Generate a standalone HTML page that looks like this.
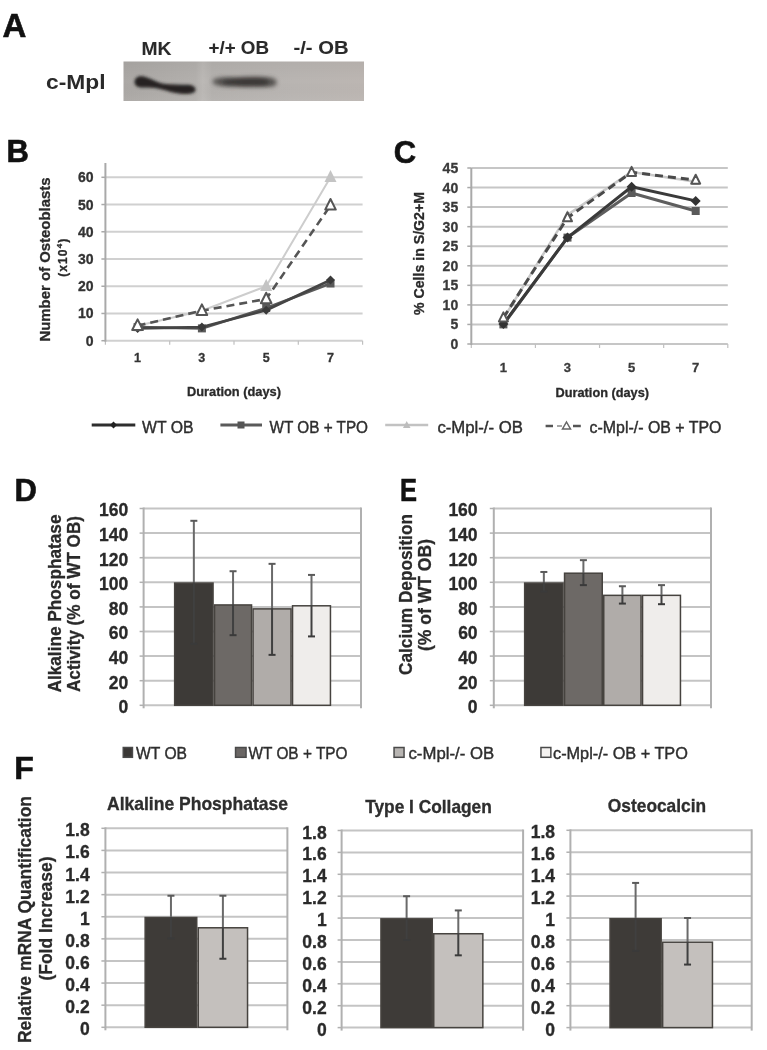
<!DOCTYPE html><html><head><meta charset="utf-8"><style>
html,body{margin:0;padding:0;background:#fff;width:767px;height:1050px;overflow:hidden}
svg{display:block;filter:blur(0.45px)}
text{font-family:"Liberation Sans", sans-serif}
</style></head><body>
<svg width="767" height="1050" viewBox="0 0 767 1050">
<defs>
<linearGradient id="blotg" x1="0" y1="0" x2="1" y2="0">
<stop offset="0" stop-color="#aba8a5"/><stop offset="0.3" stop-color="#b3b0ad"/><stop offset="0.33" stop-color="#bcb9b6"/><stop offset="0.37" stop-color="#b4b1ae"/><stop offset="0.7" stop-color="#b9b5b2"/><stop offset="1" stop-color="#bcb6b2"/>
</linearGradient>
<linearGradient id="blotv" x1="0" y1="0" x2="0" y2="1">
<stop offset="0" stop-color="#000" stop-opacity="0.04"/><stop offset="0.5" stop-color="#000" stop-opacity="0"/><stop offset="1" stop-color="#fff" stop-opacity="0.04"/>
</linearGradient>
<filter id="blur1" x="-20%" y="-80%" width="140%" height="260%"><feGaussianBlur stdDeviation="1.5"/></filter>
<filter id="blur2" x="-20%" y="-80%" width="140%" height="260%"><feGaussianBlur stdDeviation="2.2"/></filter>
<filter id="gblur" x="0" y="0" width="100%" height="100%"><feGaussianBlur stdDeviation="0.0"/></filter>
</defs>
<rect width="767" height="1050" fill="#fff"/>
<g>

<text x="2.5" y="36.5" font-size="33" font-weight="bold" fill="#111" text-anchor="start" stroke="#111" stroke-width="0.6">A</text>
<text x="6.5" y="161.5" font-size="31" font-weight="bold" fill="#111" text-anchor="start" stroke="#111" stroke-width="0.6">B</text>
<text x="393.8" y="163.3" font-size="31" font-weight="bold" fill="#111" text-anchor="start" stroke="#111" stroke-width="0.6">C</text>
<text x="14.5" y="500.5" font-size="31" font-weight="bold" fill="#111" text-anchor="start" stroke="#111" stroke-width="0.6">D</text>
<text x="400" y="500.5" font-size="30.5" font-weight="bold" fill="#111" text-anchor="start" textLength="17" lengthAdjust="spacingAndGlyphs" stroke="#111" stroke-width="0.6">E</text>
<text x="14.2" y="779.3" font-size="32" font-weight="bold" fill="#111" text-anchor="start" stroke="#111" stroke-width="0.6">F</text>
<rect x="123.5" y="61.5" width="240.5" height="39.5" fill="url(#blotg)"/>
<rect x="123.5" y="61.5" width="240.5" height="39.5" fill="url(#blotv)"/>
<path d="M134.5,82 C134.5,77 139,75.5 144,76.5 C150,78 155,81.5 162,83.5 C170,85 180,84.5 189,84.8 C196,85.5 197.5,91 193,93 C186,95 175,93.5 166,90.5 C158,88 151,87 145,87.5 C138,88 134.5,86 134.5,82 Z" fill="#252220" filter="url(#blur1)"/>
<path d="M212.5,81.5 C213,77.5 222,77 235,77.5 C248,76.5 262,76.5 273,78 C278,80 278,85 273,86.5 C262,87.5 248,87 235,86.5 C222,86.5 213,86 212.5,81.5 Z" fill="#4a4745" filter="url(#blur2)" opacity="0.85"/>
<path d="M222,81.5 C228,79 250,78.5 266,79.5 C270,81 270,83 266,84.5 C250,85.5 230,85 222,83.5 Z" fill="#2e2c2a" filter="url(#blur2)" opacity="0.8"/>
<path d="M248,64 L248,76" stroke="#8f8c8a" stroke-width="2" filter="url(#blur1)" opacity="0.6"/>
<text x="141.5" y="55" font-size="18.5" font-weight="bold" fill="#2a2a2a" text-anchor="start" textLength="30" lengthAdjust="spacingAndGlyphs" stroke="#2a2a2a" stroke-width="0.1">MK</text>
<text x="208.5" y="54" font-size="18.5" font-weight="bold" fill="#2a2a2a" text-anchor="start" textLength="60.5" lengthAdjust="spacingAndGlyphs" stroke="#2a2a2a" stroke-width="0.1">+/+ OB</text>
<text x="293.5" y="54" font-size="18.5" font-weight="bold" fill="#2a2a2a" text-anchor="start" textLength="55" lengthAdjust="spacingAndGlyphs" stroke="#2a2a2a" stroke-width="0.1">-/- OB</text>
<text x="46" y="88.5" font-size="20" font-weight="bold" fill="#2a2a2a" text-anchor="start" textLength="59.5" lengthAdjust="spacingAndGlyphs" >c-Mpl</text>
<line x1="101.4" y1="340.7" x2="105.4" y2="340.7" stroke="#a9a9a9" stroke-width="1.5" />
<text x="93.5" y="345.7" font-size="14" font-weight="bold" fill="#333" text-anchor="end" stroke="#333" stroke-width="0.3">0</text>
<line x1="105.4" y1="313.46666666666664" x2="362.6" y2="313.46666666666664" stroke="#d0d0d0" stroke-width="2" />
<line x1="101.4" y1="313.46666666666664" x2="105.4" y2="313.46666666666664" stroke="#a9a9a9" stroke-width="1.5" />
<text x="93.5" y="318.46666666666664" font-size="14" font-weight="bold" fill="#333" text-anchor="end" stroke="#333" stroke-width="0.3">10</text>
<line x1="105.4" y1="286.23333333333335" x2="362.6" y2="286.23333333333335" stroke="#d0d0d0" stroke-width="2" />
<line x1="101.4" y1="286.23333333333335" x2="105.4" y2="286.23333333333335" stroke="#a9a9a9" stroke-width="1.5" />
<text x="93.5" y="291.23333333333335" font-size="14" font-weight="bold" fill="#333" text-anchor="end" stroke="#333" stroke-width="0.3">20</text>
<line x1="105.4" y1="259.0" x2="362.6" y2="259.0" stroke="#d0d0d0" stroke-width="2" />
<line x1="101.4" y1="259.0" x2="105.4" y2="259.0" stroke="#a9a9a9" stroke-width="1.5" />
<text x="93.5" y="264.0" font-size="14" font-weight="bold" fill="#333" text-anchor="end" stroke="#333" stroke-width="0.3">30</text>
<line x1="105.4" y1="231.76666666666665" x2="362.6" y2="231.76666666666665" stroke="#d0d0d0" stroke-width="2" />
<line x1="101.4" y1="231.76666666666665" x2="105.4" y2="231.76666666666665" stroke="#a9a9a9" stroke-width="1.5" />
<text x="93.5" y="236.76666666666665" font-size="14" font-weight="bold" fill="#333" text-anchor="end" stroke="#333" stroke-width="0.3">40</text>
<line x1="105.4" y1="204.53333333333333" x2="362.6" y2="204.53333333333333" stroke="#d0d0d0" stroke-width="2" />
<line x1="101.4" y1="204.53333333333333" x2="105.4" y2="204.53333333333333" stroke="#a9a9a9" stroke-width="1.5" />
<text x="93.5" y="209.53333333333333" font-size="14" font-weight="bold" fill="#333" text-anchor="end" stroke="#333" stroke-width="0.3">50</text>
<line x1="105.4" y1="177.3" x2="362.6" y2="177.3" stroke="#d0d0d0" stroke-width="2" />
<line x1="101.4" y1="177.3" x2="105.4" y2="177.3" stroke="#a9a9a9" stroke-width="1.5" />
<text x="93.5" y="182.3" font-size="14" font-weight="bold" fill="#333" text-anchor="end" stroke="#333" stroke-width="0.3">60</text>
<line x1="105.4" y1="340.7" x2="362.6" y2="340.7" stroke="#d0d0d0" stroke-width="2" />
<line x1="105.4" y1="340.7" x2="105.4" y2="344.7" stroke="#c0c0c0" stroke-width="1.2" />
<line x1="169.70000000000002" y1="340.7" x2="169.70000000000002" y2="344.7" stroke="#c0c0c0" stroke-width="1.2" />
<line x1="234.00000000000003" y1="340.7" x2="234.00000000000003" y2="344.7" stroke="#c0c0c0" stroke-width="1.2" />
<line x1="298.30000000000007" y1="340.7" x2="298.30000000000007" y2="344.7" stroke="#c0c0c0" stroke-width="1.2" />
<line x1="362.6" y1="340.7" x2="362.6" y2="344.7" stroke="#c0c0c0" stroke-width="1.2" />
<line x1="105.4" y1="163" x2="105.4" y2="341.7" stroke="#a9a9a9" stroke-width="2" />
<text x="137.55" y="361.5" font-size="12.5" font-weight="bold" fill="#333" text-anchor="middle" stroke="#333" stroke-width="0.3">1</text>
<text x="201.85000000000002" y="361.5" font-size="12.5" font-weight="bold" fill="#333" text-anchor="middle" stroke="#333" stroke-width="0.3">3</text>
<text x="266.15000000000003" y="361.5" font-size="12.5" font-weight="bold" fill="#333" text-anchor="middle" stroke="#333" stroke-width="0.3">5</text>
<text x="330.45000000000005" y="361.5" font-size="12.5" font-weight="bold" fill="#333" text-anchor="middle" stroke="#333" stroke-width="0.3">7</text>
<path d="M137.6,327.1 L201.9,328.4 L266.2,308.0 L330.5,283.5" fill="none" stroke="#5a5a5a" stroke-width="2.6" stroke-linejoin="round" />
<rect x="133.6" y="323.1" width="8" height="8" fill="#5a5a5a"/>
<rect x="197.9" y="324.4" width="8" height="8" fill="#5a5a5a"/>
<rect x="262.2" y="304.0" width="8" height="8" fill="#5a5a5a"/>
<rect x="326.5" y="279.5" width="8" height="8" fill="#5a5a5a"/>
<path d="M137.6,328.4 L201.9,327.1 L266.2,310.2 L330.5,280.0" fill="none" stroke="#454545" stroke-width="2.6" stroke-linejoin="round" />
<path d="M137.6,323.9 L142.1,328.4 L137.6,332.9 L133.1,328.4 Z" fill="#3a3a3a"/>
<path d="M201.9,322.6 L206.4,327.1 L201.9,331.6 L197.4,327.1 Z" fill="#3a3a3a"/>
<path d="M266.2,305.7 L270.7,310.2 L266.2,314.7 L261.7,310.2 Z" fill="#3a3a3a"/>
<path d="M330.5,275.5 L335.0,280.0 L330.5,284.5 L326.0,280.0 Z" fill="#3a3a3a"/>
<path d="M137.6,325.7 L201.9,310.7 L266.2,286.2 L330.5,177.3" fill="none" stroke="#cdcdcd" stroke-width="2" stroke-linejoin="round" />
<path d="M137.6,318.5 L143.6,330.5 L131.6,330.5 Z" fill="#c4c4c4"/>
<path d="M201.9,303.5 L207.9,315.5 L195.9,315.5 Z" fill="#c4c4c4"/>
<path d="M266.2,279.0 L272.2,291.0 L260.2,291.0 Z" fill="#c4c4c4"/>
<path d="M330.5,170.1 L336.5,182.1 L324.5,182.1 Z" fill="#c4c4c4"/>
<path d="M137.6,325.7 L201.9,310.7 L266.2,299.0 L330.5,205.4" fill="none" stroke="#555" stroke-width="2.6" stroke-linejoin="round" stroke-dasharray="8,5"/>
<path d="M137.6,319.4 L142.9,330.0 L132.2,330.0 Z" fill="#fff" stroke="#555" stroke-width="2" stroke-linejoin="round"/>
<path d="M201.9,304.4 L207.2,315.0 L196.6,315.0 Z" fill="#fff" stroke="#555" stroke-width="2" stroke-linejoin="round"/>
<path d="M266.2,292.7 L271.5,303.3 L260.9,303.3 Z" fill="#fff" stroke="#555" stroke-width="2" stroke-linejoin="round"/>
<path d="M330.5,199.0 L335.8,209.6 L325.2,209.6 Z" fill="#fff" stroke="#555" stroke-width="2" stroke-linejoin="round"/>
<text transform="translate(49.7,259.5) rotate(-90)" x="0" y="0" font-size="15" font-weight="bold" fill="#2a2a2a" text-anchor="middle" textLength="164" lengthAdjust="spacingAndGlyphs" stroke="#2a2a2a" stroke-width="0.3">Number of Osteoblasts</text>
<text transform="translate(66.5,257.8) rotate(-90)" x="0" y="0" font-size="12" font-weight="bold" fill="#2a2a2a" stroke="#2a2a2a" stroke-width="0.3" text-anchor="middle" textLength="38" lengthAdjust="spacing">(x10<tspan font-size="8" dy="-4.5">4</tspan><tspan dy="4.5">)</tspan></text>
<text x="234" y="396" font-size="12.5" font-weight="bold" fill="#2a2a2a" text-anchor="middle" textLength="94" lengthAdjust="spacingAndGlyphs" stroke="#2a2a2a" stroke-width="0.3">Duration (days)</text>
<line x1="467.3" y1="344.0" x2="471.3" y2="344.0" stroke="#a9a9a9" stroke-width="1.5" />
<text x="458.2" y="349.0" font-size="14" font-weight="bold" fill="#3a3a3a" text-anchor="end" stroke="#3a3a3a" stroke-width="0.3">0</text>
<line x1="471.3" y1="324.44444444444446" x2="727.8" y2="324.44444444444446" stroke="#c6c6c6" stroke-width="2" />
<line x1="467.3" y1="324.44444444444446" x2="471.3" y2="324.44444444444446" stroke="#a9a9a9" stroke-width="1.5" />
<text x="458.2" y="329.44444444444446" font-size="14" font-weight="bold" fill="#3a3a3a" text-anchor="end" stroke="#3a3a3a" stroke-width="0.3">5</text>
<line x1="471.3" y1="304.8888888888889" x2="727.8" y2="304.8888888888889" stroke="#c6c6c6" stroke-width="2" />
<line x1="467.3" y1="304.8888888888889" x2="471.3" y2="304.8888888888889" stroke="#a9a9a9" stroke-width="1.5" />
<text x="458.2" y="309.8888888888889" font-size="14" font-weight="bold" fill="#3a3a3a" text-anchor="end" stroke="#3a3a3a" stroke-width="0.3">10</text>
<line x1="471.3" y1="285.3333333333333" x2="727.8" y2="285.3333333333333" stroke="#c6c6c6" stroke-width="2" />
<line x1="467.3" y1="285.3333333333333" x2="471.3" y2="285.3333333333333" stroke="#a9a9a9" stroke-width="1.5" />
<text x="458.2" y="290.3333333333333" font-size="14" font-weight="bold" fill="#3a3a3a" text-anchor="end" stroke="#3a3a3a" stroke-width="0.3">15</text>
<line x1="471.3" y1="265.77777777777777" x2="727.8" y2="265.77777777777777" stroke="#c6c6c6" stroke-width="2" />
<line x1="467.3" y1="265.77777777777777" x2="471.3" y2="265.77777777777777" stroke="#a9a9a9" stroke-width="1.5" />
<text x="458.2" y="270.77777777777777" font-size="14" font-weight="bold" fill="#3a3a3a" text-anchor="end" stroke="#3a3a3a" stroke-width="0.3">20</text>
<line x1="471.3" y1="246.22222222222223" x2="727.8" y2="246.22222222222223" stroke="#c6c6c6" stroke-width="2" />
<line x1="467.3" y1="246.22222222222223" x2="471.3" y2="246.22222222222223" stroke="#a9a9a9" stroke-width="1.5" />
<text x="458.2" y="251.22222222222223" font-size="14" font-weight="bold" fill="#3a3a3a" text-anchor="end" stroke="#3a3a3a" stroke-width="0.3">25</text>
<line x1="471.3" y1="226.66666666666669" x2="727.8" y2="226.66666666666669" stroke="#c6c6c6" stroke-width="2" />
<line x1="467.3" y1="226.66666666666669" x2="471.3" y2="226.66666666666669" stroke="#a9a9a9" stroke-width="1.5" />
<text x="458.2" y="231.66666666666669" font-size="14" font-weight="bold" fill="#3a3a3a" text-anchor="end" stroke="#3a3a3a" stroke-width="0.3">30</text>
<line x1="471.3" y1="207.11111111111111" x2="727.8" y2="207.11111111111111" stroke="#c6c6c6" stroke-width="2" />
<line x1="467.3" y1="207.11111111111111" x2="471.3" y2="207.11111111111111" stroke="#a9a9a9" stroke-width="1.5" />
<text x="458.2" y="212.11111111111111" font-size="14" font-weight="bold" fill="#3a3a3a" text-anchor="end" stroke="#3a3a3a" stroke-width="0.3">35</text>
<line x1="471.3" y1="187.55555555555557" x2="727.8" y2="187.55555555555557" stroke="#c6c6c6" stroke-width="2" />
<line x1="467.3" y1="187.55555555555557" x2="471.3" y2="187.55555555555557" stroke="#a9a9a9" stroke-width="1.5" />
<text x="458.2" y="192.55555555555557" font-size="14" font-weight="bold" fill="#3a3a3a" text-anchor="end" stroke="#3a3a3a" stroke-width="0.3">40</text>
<line x1="471.3" y1="168.0" x2="727.8" y2="168.0" stroke="#c6c6c6" stroke-width="2" />
<line x1="467.3" y1="168.0" x2="471.3" y2="168.0" stroke="#a9a9a9" stroke-width="1.5" />
<text x="458.2" y="173.0" font-size="14" font-weight="bold" fill="#3a3a3a" text-anchor="end" stroke="#3a3a3a" stroke-width="0.3">45</text>
<line x1="471.3" y1="344.0" x2="727.8" y2="344.0" stroke="#c6c6c6" stroke-width="2" />
<line x1="471.3" y1="344.0" x2="471.3" y2="348.0" stroke="#c0c0c0" stroke-width="1.2" />
<line x1="535.425" y1="344.0" x2="535.425" y2="348.0" stroke="#c0c0c0" stroke-width="1.2" />
<line x1="599.55" y1="344.0" x2="599.55" y2="348.0" stroke="#c0c0c0" stroke-width="1.2" />
<line x1="663.675" y1="344.0" x2="663.675" y2="348.0" stroke="#c0c0c0" stroke-width="1.2" />
<line x1="727.8" y1="344.0" x2="727.8" y2="348.0" stroke="#c0c0c0" stroke-width="1.2" />
<line x1="471.3" y1="168.0" x2="471.3" y2="345.0" stroke="#a9a9a9" stroke-width="2" />
<text x="503.3625" y="372" font-size="13" font-weight="bold" fill="#3a3a3a" text-anchor="middle" stroke="#3a3a3a" stroke-width="0.3">1</text>
<text x="567.4875" y="372" font-size="13" font-weight="bold" fill="#3a3a3a" text-anchor="middle" stroke="#3a3a3a" stroke-width="0.3">3</text>
<text x="631.6125" y="372" font-size="13" font-weight="bold" fill="#3a3a3a" text-anchor="middle" stroke="#3a3a3a" stroke-width="0.3">5</text>
<text x="695.7375" y="372" font-size="13" font-weight="bold" fill="#3a3a3a" text-anchor="middle" stroke="#3a3a3a" stroke-width="0.3">7</text>
<path d="M503.4,324.4 L567.5,237.6 L631.6,193.0 L695.7,211.0" fill="none" stroke="#5e5e5e" stroke-width="3" stroke-linejoin="round" />
<rect x="499.4" y="320.4" width="8" height="8" fill="#5a5a5a"/>
<rect x="563.5" y="233.6" width="8" height="8" fill="#5a5a5a"/>
<rect x="627.6" y="189.0" width="8" height="8" fill="#5a5a5a"/>
<rect x="691.7" y="207.0" width="8" height="8" fill="#5a5a5a"/>
<path d="M503.4,324.1 L567.5,237.6 L631.6,186.8 L695.7,200.9" fill="none" stroke="#3a3a3a" stroke-width="3" stroke-linejoin="round" />
<path d="M503.4,319.1 L508.4,324.1 L503.4,329.1 L498.4,324.1 Z" fill="#333"/>
<path d="M567.5,232.6 L572.5,237.6 L567.5,242.6 L562.5,237.6 Z" fill="#333"/>
<path d="M631.6,181.8 L636.6,186.8 L631.6,191.8 L626.6,186.8 Z" fill="#333"/>
<path d="M695.7,195.9 L700.7,200.9 L695.7,205.9 L690.7,200.9 Z" fill="#333"/>
<path d="M503.4,318.6 L567.5,214.9 L631.6,171.9 L695.7,181.7" fill="none" stroke="#c9c9c9" stroke-width="2.5" stroke-linejoin="round" />
<path d="M503.4,313.8 L507.4,321.8 L499.4,321.8 Z" fill="#c4c4c4"/>
<path d="M567.5,210.1 L571.5,218.1 L563.5,218.1 Z" fill="#c4c4c4"/>
<path d="M631.6,167.1 L635.6,175.1 L627.6,175.1 Z" fill="#c4c4c4"/>
<path d="M695.7,176.9 L699.7,184.9 L691.7,184.9 Z" fill="#c4c4c4"/>
<path d="M503.4,317.8 L567.5,217.7 L631.6,172.3 L695.7,180.1" fill="none" stroke="#4a4a4a" stroke-width="3" stroke-linejoin="round" stroke-dasharray="8,5"/>
<path d="M503.4,312.4 L507.9,321.4 L498.9,321.4 Z" fill="#fff" stroke="#555" stroke-width="2" stroke-linejoin="round"/>
<path d="M567.5,212.3 L572.0,221.3 L563.0,221.3 Z" fill="#fff" stroke="#555" stroke-width="2" stroke-linejoin="round"/>
<path d="M631.6,166.9 L636.1,175.9 L627.1,175.9 Z" fill="#fff" stroke="#555" stroke-width="2" stroke-linejoin="round"/>
<path d="M695.7,174.7 L700.2,183.7 L691.2,183.7 Z" fill="#fff" stroke="#555" stroke-width="2" stroke-linejoin="round"/>
<text transform="translate(423.6,253.5) rotate(-90)" x="0" y="0" font-size="14" font-weight="bold" fill="#2a2a2a" text-anchor="middle" textLength="123" lengthAdjust="spacingAndGlyphs" stroke="#2a2a2a" stroke-width="0.3">% Cells in S/G2+M</text>
<text x="602.3" y="396.5" font-size="12.5" font-weight="bold" fill="#2a2a2a" text-anchor="middle" textLength="93.5" lengthAdjust="spacingAndGlyphs" stroke="#2a2a2a" stroke-width="0.3">Duration (days)</text>
<line x1="91.7" y1="425" x2="135.3" y2="425" stroke="#2e2e2e" stroke-width="3" />
<path d="M113.5,421.5 L117,425 L113.5,428.5 L110,425 Z" fill="#222"/>
<text x="142" y="433" font-size="16" font-weight="normal" fill="#2e2e2e" text-anchor="start" textLength="51.5" lengthAdjust="spacingAndGlyphs" stroke="#2e2e2e" stroke-width="0.4">WT OB</text>
<line x1="220.4" y1="425" x2="262" y2="425" stroke="#5a5a5a" stroke-width="3" />
<rect x="237.5" y="421.5" width="7" height="7" fill="#555"/>
<text x="269.5" y="433" font-size="16" font-weight="normal" fill="#2e2e2e" text-anchor="start" textLength="98.5" lengthAdjust="spacingAndGlyphs" stroke="#2e2e2e" stroke-width="0.4">WT OB + TPO</text>
<line x1="385.2" y1="425" x2="428.2" y2="425" stroke="#c2c2c2" stroke-width="2.5" />
<path d="M406.7,421 L410.5,428 L403,428 Z" fill="#bdbdbd"/>
<text x="437.4" y="433" font-size="16" font-weight="normal" fill="#2e2e2e" text-anchor="start" textLength="85.5" lengthAdjust="spacingAndGlyphs" stroke="#2e2e2e" stroke-width="0.4">c-Mpl-/- OB</text>
<line x1="545.6" y1="426" x2="553" y2="426" stroke="#555" stroke-width="2.5" />
<line x1="573" y1="426" x2="580.8" y2="426" stroke="#555" stroke-width="2.5" />
<path d="M566.5,422 L570.5,429 L562.5,429 Z" fill="#fff" stroke="#666" stroke-width="1.5"/>
<line x1="557" y1="426" x2="562" y2="426" stroke="#888" stroke-width="1.5" />
<text x="589.5" y="433" font-size="16" font-weight="normal" fill="#2e2e2e" text-anchor="start" textLength="132" lengthAdjust="spacingAndGlyphs" stroke="#2e2e2e" stroke-width="0.4">c-Mpl-/- OB + TPO</text>
<line x1="143.6" y1="705.3" x2="361" y2="705.3" stroke="#c4c4c4" stroke-width="2" />
<line x1="139.6" y1="705.3" x2="143.6" y2="705.3" stroke="#b0b0b0" stroke-width="1.5" />
<text x="128.3" y="713.0999999999999" font-size="17.5" font-weight="bold" fill="#2a2a2a" text-anchor="end" stroke="#2a2a2a" stroke-width="0.3">0</text>
<line x1="143.6" y1="680.6999999999999" x2="361" y2="680.6999999999999" stroke="#c4c4c4" stroke-width="2" />
<line x1="139.6" y1="680.6999999999999" x2="143.6" y2="680.6999999999999" stroke="#b0b0b0" stroke-width="1.5" />
<text x="128.3" y="688.4999999999999" font-size="17.5" font-weight="bold" fill="#2a2a2a" text-anchor="end" stroke="#2a2a2a" stroke-width="0.3">20</text>
<line x1="143.6" y1="656.0999999999999" x2="361" y2="656.0999999999999" stroke="#c4c4c4" stroke-width="2" />
<line x1="139.6" y1="656.0999999999999" x2="143.6" y2="656.0999999999999" stroke="#b0b0b0" stroke-width="1.5" />
<text x="128.3" y="663.8999999999999" font-size="17.5" font-weight="bold" fill="#2a2a2a" text-anchor="end" stroke="#2a2a2a" stroke-width="0.3">40</text>
<line x1="143.6" y1="631.5" x2="361" y2="631.5" stroke="#c4c4c4" stroke-width="2" />
<line x1="139.6" y1="631.5" x2="143.6" y2="631.5" stroke="#b0b0b0" stroke-width="1.5" />
<text x="128.3" y="639.3" font-size="17.5" font-weight="bold" fill="#2a2a2a" text-anchor="end" stroke="#2a2a2a" stroke-width="0.3">60</text>
<line x1="143.6" y1="606.9" x2="361" y2="606.9" stroke="#c4c4c4" stroke-width="2" />
<line x1="139.6" y1="606.9" x2="143.6" y2="606.9" stroke="#b0b0b0" stroke-width="1.5" />
<text x="128.3" y="614.6999999999999" font-size="17.5" font-weight="bold" fill="#2a2a2a" text-anchor="end" stroke="#2a2a2a" stroke-width="0.3">80</text>
<line x1="143.6" y1="582.3" x2="361" y2="582.3" stroke="#c4c4c4" stroke-width="2" />
<line x1="139.6" y1="582.3" x2="143.6" y2="582.3" stroke="#b0b0b0" stroke-width="1.5" />
<text x="128.3" y="590.0999999999999" font-size="17.5" font-weight="bold" fill="#2a2a2a" text-anchor="end" stroke="#2a2a2a" stroke-width="0.3">100</text>
<line x1="143.6" y1="557.7" x2="361" y2="557.7" stroke="#c4c4c4" stroke-width="2" />
<line x1="139.6" y1="557.7" x2="143.6" y2="557.7" stroke="#b0b0b0" stroke-width="1.5" />
<text x="128.3" y="565.5" font-size="17.5" font-weight="bold" fill="#2a2a2a" text-anchor="end" stroke="#2a2a2a" stroke-width="0.3">120</text>
<line x1="143.6" y1="533.1" x2="361" y2="533.1" stroke="#c4c4c4" stroke-width="2" />
<line x1="139.6" y1="533.1" x2="143.6" y2="533.1" stroke="#b0b0b0" stroke-width="1.5" />
<text x="128.3" y="540.9" font-size="17.5" font-weight="bold" fill="#2a2a2a" text-anchor="end" stroke="#2a2a2a" stroke-width="0.3">140</text>
<line x1="143.6" y1="508.5" x2="361" y2="508.5" stroke="#c4c4c4" stroke-width="2" />
<line x1="139.6" y1="508.5" x2="143.6" y2="508.5" stroke="#b0b0b0" stroke-width="1.5" />
<text x="128.3" y="516.3" font-size="17.5" font-weight="bold" fill="#2a2a2a" text-anchor="end" stroke="#2a2a2a" stroke-width="0.3">160</text>
<line x1="143.6" y1="507.5" x2="143.6" y2="708.3" stroke="#b0b0b0" stroke-width="2" />
<line x1="361" y1="507.5" x2="361" y2="708.3" stroke="#b0b0b0" stroke-width="2" />
<rect x="174.65" y="583.05" width="38.40" height="122.25" fill="#3d3a37" stroke="#46433f" stroke-width="1.5"/>
<line x1="193.85" y1="520.8" x2="193.85" y2="582.3" stroke="#6a6a6a" stroke-width="2" />
<line x1="193.85" y1="582.3" x2="193.85" y2="643.8" stroke="#404040" stroke-width="2" />
<line x1="190.35" y1="520.8" x2="197.35" y2="520.8" stroke="#5a5a5a" stroke-width="2" />
<line x1="190.35" y1="643.8" x2="197.35" y2="643.8" stroke="#3a3a3a" stroke-width="2" />
<rect x="214.55" y="604.94" width="37.00" height="100.36" fill="#6d6966" stroke="#46433f" stroke-width="1.5"/>
<line x1="233.05" y1="571.23" x2="233.05" y2="604.194" stroke="#6a6a6a" stroke-width="2" />
<line x1="233.05" y1="604.194" x2="233.05" y2="635.1899999999999" stroke="#404040" stroke-width="2" />
<line x1="229.55" y1="571.23" x2="236.55" y2="571.23" stroke="#5a5a5a" stroke-width="2" />
<line x1="229.55" y1="635.1899999999999" x2="236.55" y2="635.1899999999999" stroke="#3a3a3a" stroke-width="2" />
<rect x="253.05" y="608.88" width="38.00" height="96.42" fill="#b0aca9" stroke="#46433f" stroke-width="1.5"/>
<line x1="272.05" y1="563.85" x2="272.05" y2="608.13" stroke="#6a6a6a" stroke-width="2" />
<line x1="272.05" y1="608.13" x2="272.05" y2="654.87" stroke="#404040" stroke-width="2" />
<line x1="268.55" y1="563.85" x2="275.55" y2="563.85" stroke="#5a5a5a" stroke-width="2" />
<line x1="268.55" y1="654.87" x2="275.55" y2="654.87" stroke="#3a3a3a" stroke-width="2" />
<rect x="292.55" y="605.80" width="37.90" height="99.50" fill="#efedeb" stroke="#46433f" stroke-width="1.5"/>
<line x1="311.5" y1="574.92" x2="311.5" y2="605.055" stroke="#6a6a6a" stroke-width="2" />
<line x1="311.5" y1="605.055" x2="311.5" y2="636.42" stroke="#404040" stroke-width="2" />
<line x1="308.0" y1="574.92" x2="315.0" y2="574.92" stroke="#5a5a5a" stroke-width="2" />
<line x1="308.0" y1="636.42" x2="315.0" y2="636.42" stroke="#3a3a3a" stroke-width="2" />
<text transform="translate(60.8,603.5) rotate(-90)" x="0" y="0" font-size="18.5" font-weight="bold" fill="#2a2a2a" text-anchor="middle" textLength="178" lengthAdjust="spacingAndGlyphs" stroke="#2a2a2a" stroke-width="0.3">Alkaline Phosphatase</text>
<text transform="translate(80.4,604) rotate(-90)" x="0" y="0" font-size="18.5" font-weight="bold" fill="#2a2a2a" text-anchor="middle" textLength="176" lengthAdjust="spacingAndGlyphs" stroke="#2a2a2a" stroke-width="0.3">Activity (% of WT OB)</text>
<line x1="493.8" y1="705.3" x2="711" y2="705.3" stroke="#c4c4c4" stroke-width="2" />
<line x1="489.8" y1="705.3" x2="493.8" y2="705.3" stroke="#b0b0b0" stroke-width="1.5" />
<text x="477.6" y="713.0999999999999" font-size="17.5" font-weight="bold" fill="#2a2a2a" text-anchor="end" stroke="#2a2a2a" stroke-width="0.3">0</text>
<line x1="493.8" y1="680.6999999999999" x2="711" y2="680.6999999999999" stroke="#c4c4c4" stroke-width="2" />
<line x1="489.8" y1="680.6999999999999" x2="493.8" y2="680.6999999999999" stroke="#b0b0b0" stroke-width="1.5" />
<text x="477.6" y="688.4999999999999" font-size="17.5" font-weight="bold" fill="#2a2a2a" text-anchor="end" stroke="#2a2a2a" stroke-width="0.3">20</text>
<line x1="493.8" y1="656.0999999999999" x2="711" y2="656.0999999999999" stroke="#c4c4c4" stroke-width="2" />
<line x1="489.8" y1="656.0999999999999" x2="493.8" y2="656.0999999999999" stroke="#b0b0b0" stroke-width="1.5" />
<text x="477.6" y="663.8999999999999" font-size="17.5" font-weight="bold" fill="#2a2a2a" text-anchor="end" stroke="#2a2a2a" stroke-width="0.3">40</text>
<line x1="493.8" y1="631.5" x2="711" y2="631.5" stroke="#c4c4c4" stroke-width="2" />
<line x1="489.8" y1="631.5" x2="493.8" y2="631.5" stroke="#b0b0b0" stroke-width="1.5" />
<text x="477.6" y="639.3" font-size="17.5" font-weight="bold" fill="#2a2a2a" text-anchor="end" stroke="#2a2a2a" stroke-width="0.3">60</text>
<line x1="493.8" y1="606.9" x2="711" y2="606.9" stroke="#c4c4c4" stroke-width="2" />
<line x1="489.8" y1="606.9" x2="493.8" y2="606.9" stroke="#b0b0b0" stroke-width="1.5" />
<text x="477.6" y="614.6999999999999" font-size="17.5" font-weight="bold" fill="#2a2a2a" text-anchor="end" stroke="#2a2a2a" stroke-width="0.3">80</text>
<line x1="493.8" y1="582.3" x2="711" y2="582.3" stroke="#c4c4c4" stroke-width="2" />
<line x1="489.8" y1="582.3" x2="493.8" y2="582.3" stroke="#b0b0b0" stroke-width="1.5" />
<text x="477.6" y="590.0999999999999" font-size="17.5" font-weight="bold" fill="#2a2a2a" text-anchor="end" stroke="#2a2a2a" stroke-width="0.3">100</text>
<line x1="493.8" y1="557.7" x2="711" y2="557.7" stroke="#c4c4c4" stroke-width="2" />
<line x1="489.8" y1="557.7" x2="493.8" y2="557.7" stroke="#b0b0b0" stroke-width="1.5" />
<text x="477.6" y="565.5" font-size="17.5" font-weight="bold" fill="#2a2a2a" text-anchor="end" stroke="#2a2a2a" stroke-width="0.3">120</text>
<line x1="493.8" y1="533.1" x2="711" y2="533.1" stroke="#c4c4c4" stroke-width="2" />
<line x1="489.8" y1="533.1" x2="493.8" y2="533.1" stroke="#b0b0b0" stroke-width="1.5" />
<text x="477.6" y="540.9" font-size="17.5" font-weight="bold" fill="#2a2a2a" text-anchor="end" stroke="#2a2a2a" stroke-width="0.3">140</text>
<line x1="493.8" y1="508.5" x2="711" y2="508.5" stroke="#c4c4c4" stroke-width="2" />
<line x1="489.8" y1="508.5" x2="493.8" y2="508.5" stroke="#b0b0b0" stroke-width="1.5" />
<text x="477.6" y="516.3" font-size="17.5" font-weight="bold" fill="#2a2a2a" text-anchor="end" stroke="#2a2a2a" stroke-width="0.3">160</text>
<line x1="493.8" y1="507.5" x2="493.8" y2="708.3" stroke="#b0b0b0" stroke-width="2" />
<line x1="711" y1="507.5" x2="711" y2="708.3" stroke="#b0b0b0" stroke-width="2" />
<rect x="524.65" y="583.05" width="38.40" height="122.25" fill="#3d3a37" stroke="#46433f" stroke-width="1.5"/>
<line x1="543.85" y1="571.968" x2="543.85" y2="582.3" stroke="#6a6a6a" stroke-width="2" />
<line x1="543.85" y1="582.3" x2="543.85" y2="591.525" stroke="#404040" stroke-width="2" />
<line x1="540.35" y1="571.968" x2="547.35" y2="571.968" stroke="#5a5a5a" stroke-width="2" />
<line x1="540.35" y1="591.525" x2="547.35" y2="591.525" stroke="#3a3a3a" stroke-width="2" />
<rect x="564.55" y="573.21" width="37.70" height="132.09" fill="#6d6966" stroke="#46433f" stroke-width="1.5"/>
<line x1="583.4" y1="560.16" x2="583.4" y2="572.46" stroke="#6a6a6a" stroke-width="2" />
<line x1="583.4" y1="572.46" x2="583.4" y2="585.129" stroke="#404040" stroke-width="2" />
<line x1="579.9" y1="560.16" x2="586.9" y2="560.16" stroke="#5a5a5a" stroke-width="2" />
<line x1="579.9" y1="585.129" x2="586.9" y2="585.129" stroke="#3a3a3a" stroke-width="2" />
<rect x="603.75" y="595.35" width="37.30" height="109.95" fill="#b0aca9" stroke="#46433f" stroke-width="1.5"/>
<line x1="622.4" y1="586.236" x2="622.4" y2="594.6" stroke="#6a6a6a" stroke-width="2" />
<line x1="622.4" y1="594.6" x2="622.4" y2="603.579" stroke="#404040" stroke-width="2" />
<line x1="618.9" y1="586.236" x2="625.9" y2="586.236" stroke="#5a5a5a" stroke-width="2" />
<line x1="618.9" y1="603.579" x2="625.9" y2="603.579" stroke="#3a3a3a" stroke-width="2" />
<rect x="642.55" y="595.35" width="37.90" height="109.95" fill="#efedeb" stroke="#46433f" stroke-width="1.5"/>
<line x1="661.5" y1="585.129" x2="661.5" y2="594.6" stroke="#6a6a6a" stroke-width="2" />
<line x1="661.5" y1="594.6" x2="661.5" y2="604.194" stroke="#404040" stroke-width="2" />
<line x1="658.0" y1="585.129" x2="665.0" y2="585.129" stroke="#5a5a5a" stroke-width="2" />
<line x1="658.0" y1="604.194" x2="665.0" y2="604.194" stroke="#3a3a3a" stroke-width="2" />
<text transform="translate(412.1,594.5) rotate(-90)" x="0" y="0" font-size="18.5" font-weight="bold" fill="#2a2a2a" text-anchor="middle" textLength="161" lengthAdjust="spacingAndGlyphs" stroke="#2a2a2a" stroke-width="0.3">Calcium Deposition</text>
<text transform="translate(430.8,595) rotate(-90)" x="0" y="0" font-size="18.5" font-weight="bold" fill="#2a2a2a" text-anchor="middle" textLength="112" lengthAdjust="spacingAndGlyphs" stroke="#2a2a2a" stroke-width="0.3">(% of WT OB)</text>
<rect x="123.25" y="747.5" width="9.2" height="9.8" fill="#3a3735" stroke="#4a4a4a" stroke-width="1.5"/>
<text x="136" y="759.2" font-size="16.5" font-weight="normal" fill="#2e2e2e" text-anchor="start" textLength="51" lengthAdjust="spacingAndGlyphs" stroke="#2e2e2e" stroke-width="0.4">WT OB</text>
<rect x="235.55" y="747.5" width="10.5" height="9.8" fill="#6a6664" stroke="#4a4a4a" stroke-width="1.5"/>
<text x="248.5" y="759.2" font-size="16.5" font-weight="normal" fill="#2e2e2e" text-anchor="start" textLength="99" lengthAdjust="spacingAndGlyphs" stroke="#2e2e2e" stroke-width="0.4">WT OB + TPO</text>
<rect x="394.05" y="747.5" width="10.0" height="9.8" fill="#b8b5b2" stroke="#4a4a4a" stroke-width="1.5"/>
<text x="408.5" y="759.2" font-size="16.5" font-weight="normal" fill="#2e2e2e" text-anchor="start" textLength="85.6" lengthAdjust="spacingAndGlyphs" stroke="#2e2e2e" stroke-width="0.4">c-Mpl-/- OB</text>
<rect x="540.95" y="747.5" width="9.9" height="9.8" fill="#f4f2f0" stroke="#4a4a4a" stroke-width="1.5"/>
<text x="553" y="759.2" font-size="16.5" font-weight="normal" fill="#2e2e2e" text-anchor="start" textLength="134.9" lengthAdjust="spacingAndGlyphs" stroke="#2e2e2e" stroke-width="0.4">c-Mpl-/- OB + TPO</text>
<line x1="105.4" y1="1027.3" x2="287.4" y2="1027.3" stroke="#c4c4c4" stroke-width="2" />
<line x1="101.4" y1="1027.3" x2="105.4" y2="1027.3" stroke="#b0b0b0" stroke-width="1.5" />
<text x="89.7" y="1035.3" font-size="17.5" font-weight="bold" fill="#2a2a2a" text-anchor="end" stroke="#2a2a2a" stroke-width="0.3">0</text>
<line x1="105.4" y1="1005.1888888888889" x2="287.4" y2="1005.1888888888889" stroke="#c4c4c4" stroke-width="2" />
<line x1="101.4" y1="1005.1888888888889" x2="105.4" y2="1005.1888888888889" stroke="#b0b0b0" stroke-width="1.5" />
<text x="89.7" y="1013.1888888888889" font-size="17.5" font-weight="bold" fill="#2a2a2a" text-anchor="end" stroke="#2a2a2a" stroke-width="0.3">0.2</text>
<line x1="105.4" y1="983.0777777777778" x2="287.4" y2="983.0777777777778" stroke="#c4c4c4" stroke-width="2" />
<line x1="101.4" y1="983.0777777777778" x2="105.4" y2="983.0777777777778" stroke="#b0b0b0" stroke-width="1.5" />
<text x="89.7" y="991.0777777777778" font-size="17.5" font-weight="bold" fill="#2a2a2a" text-anchor="end" stroke="#2a2a2a" stroke-width="0.3">0.4</text>
<line x1="105.4" y1="960.9666666666666" x2="287.4" y2="960.9666666666666" stroke="#c4c4c4" stroke-width="2" />
<line x1="101.4" y1="960.9666666666666" x2="105.4" y2="960.9666666666666" stroke="#b0b0b0" stroke-width="1.5" />
<text x="89.7" y="968.9666666666666" font-size="17.5" font-weight="bold" fill="#2a2a2a" text-anchor="end" stroke="#2a2a2a" stroke-width="0.3">0.6</text>
<line x1="105.4" y1="938.8555555555555" x2="287.4" y2="938.8555555555555" stroke="#c4c4c4" stroke-width="2" />
<line x1="101.4" y1="938.8555555555555" x2="105.4" y2="938.8555555555555" stroke="#b0b0b0" stroke-width="1.5" />
<text x="89.7" y="946.8555555555555" font-size="17.5" font-weight="bold" fill="#2a2a2a" text-anchor="end" stroke="#2a2a2a" stroke-width="0.3">0.8</text>
<line x1="105.4" y1="916.7444444444444" x2="287.4" y2="916.7444444444444" stroke="#c4c4c4" stroke-width="2" />
<line x1="101.4" y1="916.7444444444444" x2="105.4" y2="916.7444444444444" stroke="#b0b0b0" stroke-width="1.5" />
<text x="89.7" y="924.7444444444444" font-size="17.5" font-weight="bold" fill="#2a2a2a" text-anchor="end" stroke="#2a2a2a" stroke-width="0.3">1</text>
<line x1="105.4" y1="894.6333333333332" x2="287.4" y2="894.6333333333332" stroke="#c4c4c4" stroke-width="2" />
<line x1="101.4" y1="894.6333333333332" x2="105.4" y2="894.6333333333332" stroke="#b0b0b0" stroke-width="1.5" />
<text x="89.7" y="902.6333333333332" font-size="17.5" font-weight="bold" fill="#2a2a2a" text-anchor="end" stroke="#2a2a2a" stroke-width="0.3">1.2</text>
<line x1="105.4" y1="872.5222222222221" x2="287.4" y2="872.5222222222221" stroke="#c4c4c4" stroke-width="2" />
<line x1="101.4" y1="872.5222222222221" x2="105.4" y2="872.5222222222221" stroke="#b0b0b0" stroke-width="1.5" />
<text x="89.7" y="880.5222222222221" font-size="17.5" font-weight="bold" fill="#2a2a2a" text-anchor="end" stroke="#2a2a2a" stroke-width="0.3">1.4</text>
<line x1="105.4" y1="850.411111111111" x2="287.4" y2="850.411111111111" stroke="#c4c4c4" stroke-width="2" />
<line x1="101.4" y1="850.411111111111" x2="105.4" y2="850.411111111111" stroke="#b0b0b0" stroke-width="1.5" />
<text x="89.7" y="858.411111111111" font-size="17.5" font-weight="bold" fill="#2a2a2a" text-anchor="end" stroke="#2a2a2a" stroke-width="0.3">1.6</text>
<line x1="105.4" y1="828.3" x2="287.4" y2="828.3" stroke="#c4c4c4" stroke-width="2" />
<line x1="101.4" y1="828.3" x2="105.4" y2="828.3" stroke="#b0b0b0" stroke-width="1.5" />
<text x="89.7" y="836.3" font-size="17.5" font-weight="bold" fill="#2a2a2a" text-anchor="end" stroke="#2a2a2a" stroke-width="0.3">1.8</text>
<line x1="105.4" y1="827.3" x2="105.4" y2="1030.3" stroke="#b0b0b0" stroke-width="2" />
<line x1="287.4" y1="827.3" x2="287.4" y2="1030.3" stroke="#b0b0b0" stroke-width="2" />
<rect x="145.15" y="917.49" width="51.60" height="109.81" fill="#3e3b38" stroke="#46433f" stroke-width="1.5"/>
<line x1="170.95000000000002" y1="895.7388888888888" x2="170.95000000000002" y2="916.7444444444444" stroke="#6a6a6a" stroke-width="2" />
<line x1="170.95000000000002" y1="916.7444444444444" x2="170.95000000000002" y2="938.3027777777777" stroke="#404040" stroke-width="2" />
<line x1="167.45000000000002" y1="895.7388888888888" x2="174.45000000000002" y2="895.7388888888888" stroke="#5a5a5a" stroke-width="2" />
<line x1="167.45000000000002" y1="938.3027777777777" x2="174.45000000000002" y2="938.3027777777777" stroke="#3a3a3a" stroke-width="2" />
<rect x="198.25" y="927.78" width="49.30" height="99.52" fill="#c4c0bd" stroke="#46433f" stroke-width="1.5"/>
<line x1="222.9" y1="895.7388888888888" x2="222.9" y2="927.026111111111" stroke="#6a6a6a" stroke-width="2" />
<line x1="222.9" y1="927.026111111111" x2="222.9" y2="958.7555555555555" stroke="#404040" stroke-width="2" />
<line x1="219.4" y1="895.7388888888888" x2="226.4" y2="895.7388888888888" stroke="#5a5a5a" stroke-width="2" />
<line x1="219.4" y1="958.7555555555555" x2="226.4" y2="958.7555555555555" stroke="#3a3a3a" stroke-width="2" />
<text x="197.5" y="810.4" font-size="17.8" font-weight="bold" fill="#2e2e2e" text-anchor="middle" textLength="181" lengthAdjust="spacingAndGlyphs" stroke="#2a2a2a" stroke-width="0.3">Alkaline Phosphatase</text>
<line x1="341.6" y1="1027.6" x2="523.1" y2="1027.6" stroke="#c4c4c4" stroke-width="2" />
<line x1="337.6" y1="1027.6" x2="341.6" y2="1027.6" stroke="#b0b0b0" stroke-width="1.5" />
<text x="326.7" y="1035.6" font-size="17.5" font-weight="bold" fill="#2a2a2a" text-anchor="end" stroke="#2a2a2a" stroke-width="0.3">0</text>
<line x1="341.6" y1="1005.6999999999999" x2="523.1" y2="1005.6999999999999" stroke="#c4c4c4" stroke-width="2" />
<line x1="337.6" y1="1005.6999999999999" x2="341.6" y2="1005.6999999999999" stroke="#b0b0b0" stroke-width="1.5" />
<text x="326.7" y="1013.6999999999999" font-size="17.5" font-weight="bold" fill="#2a2a2a" text-anchor="end" stroke="#2a2a2a" stroke-width="0.3">0.2</text>
<line x1="341.6" y1="983.8" x2="523.1" y2="983.8" stroke="#c4c4c4" stroke-width="2" />
<line x1="337.6" y1="983.8" x2="341.6" y2="983.8" stroke="#b0b0b0" stroke-width="1.5" />
<text x="326.7" y="991.8" font-size="17.5" font-weight="bold" fill="#2a2a2a" text-anchor="end" stroke="#2a2a2a" stroke-width="0.3">0.4</text>
<line x1="341.6" y1="961.9" x2="523.1" y2="961.9" stroke="#c4c4c4" stroke-width="2" />
<line x1="337.6" y1="961.9" x2="341.6" y2="961.9" stroke="#b0b0b0" stroke-width="1.5" />
<text x="326.7" y="969.9" font-size="17.5" font-weight="bold" fill="#2a2a2a" text-anchor="end" stroke="#2a2a2a" stroke-width="0.3">0.6</text>
<line x1="341.6" y1="940.0" x2="523.1" y2="940.0" stroke="#c4c4c4" stroke-width="2" />
<line x1="337.6" y1="940.0" x2="341.6" y2="940.0" stroke="#b0b0b0" stroke-width="1.5" />
<text x="326.7" y="948.0" font-size="17.5" font-weight="bold" fill="#2a2a2a" text-anchor="end" stroke="#2a2a2a" stroke-width="0.3">0.8</text>
<line x1="341.6" y1="918.0999999999999" x2="523.1" y2="918.0999999999999" stroke="#c4c4c4" stroke-width="2" />
<line x1="337.6" y1="918.0999999999999" x2="341.6" y2="918.0999999999999" stroke="#b0b0b0" stroke-width="1.5" />
<text x="326.7" y="926.0999999999999" font-size="17.5" font-weight="bold" fill="#2a2a2a" text-anchor="end" stroke="#2a2a2a" stroke-width="0.3">1</text>
<line x1="341.6" y1="896.1999999999999" x2="523.1" y2="896.1999999999999" stroke="#c4c4c4" stroke-width="2" />
<line x1="337.6" y1="896.1999999999999" x2="341.6" y2="896.1999999999999" stroke="#b0b0b0" stroke-width="1.5" />
<text x="326.7" y="904.1999999999999" font-size="17.5" font-weight="bold" fill="#2a2a2a" text-anchor="end" stroke="#2a2a2a" stroke-width="0.3">1.2</text>
<line x1="341.6" y1="874.3" x2="523.1" y2="874.3" stroke="#c4c4c4" stroke-width="2" />
<line x1="337.6" y1="874.3" x2="341.6" y2="874.3" stroke="#b0b0b0" stroke-width="1.5" />
<text x="326.7" y="882.3" font-size="17.5" font-weight="bold" fill="#2a2a2a" text-anchor="end" stroke="#2a2a2a" stroke-width="0.3">1.4</text>
<line x1="341.6" y1="852.4" x2="523.1" y2="852.4" stroke="#c4c4c4" stroke-width="2" />
<line x1="337.6" y1="852.4" x2="341.6" y2="852.4" stroke="#b0b0b0" stroke-width="1.5" />
<text x="326.7" y="860.4" font-size="17.5" font-weight="bold" fill="#2a2a2a" text-anchor="end" stroke="#2a2a2a" stroke-width="0.3">1.6</text>
<line x1="341.6" y1="830.5" x2="523.1" y2="830.5" stroke="#c4c4c4" stroke-width="2" />
<line x1="337.6" y1="830.5" x2="341.6" y2="830.5" stroke="#b0b0b0" stroke-width="1.5" />
<text x="326.7" y="838.5" font-size="17.5" font-weight="bold" fill="#2a2a2a" text-anchor="end" stroke="#2a2a2a" stroke-width="0.3">1.8</text>
<line x1="341.6" y1="829.5" x2="341.6" y2="1030.6" stroke="#b0b0b0" stroke-width="2" />
<line x1="523.1" y1="829.5" x2="523.1" y2="1030.6" stroke="#b0b0b0" stroke-width="2" />
<rect x="380.95" y="918.85" width="51.30" height="108.75" fill="#3e3b38" stroke="#46433f" stroke-width="1.5"/>
<line x1="406.59999999999997" y1="896.2" x2="406.59999999999997" y2="918.0999999999999" stroke="#6a6a6a" stroke-width="2" />
<line x1="406.59999999999997" y1="918.0999999999999" x2="406.59999999999997" y2="940.0" stroke="#404040" stroke-width="2" />
<line x1="403.09999999999997" y1="896.2" x2="410.09999999999997" y2="896.2" stroke="#5a5a5a" stroke-width="2" />
<line x1="403.09999999999997" y1="940.0" x2="410.09999999999997" y2="940.0" stroke="#3a3a3a" stroke-width="2" />
<rect x="433.75" y="933.74" width="49.10" height="93.86" fill="#c4c0bd" stroke="#46433f" stroke-width="1.5"/>
<line x1="458.3" y1="910.435" x2="458.3" y2="932.992" stroke="#6a6a6a" stroke-width="2" />
<line x1="458.3" y1="932.992" x2="458.3" y2="955.3299999999999" stroke="#404040" stroke-width="2" />
<line x1="454.8" y1="910.435" x2="461.8" y2="910.435" stroke="#5a5a5a" stroke-width="2" />
<line x1="454.8" y1="955.3299999999999" x2="461.8" y2="955.3299999999999" stroke="#3a3a3a" stroke-width="2" />
<text x="428.5" y="812.8" font-size="17.8" font-weight="bold" fill="#2e2e2e" text-anchor="middle" textLength="126.7" lengthAdjust="spacingAndGlyphs" stroke="#2a2a2a" stroke-width="0.3">Type I Collagen</text>
<line x1="570.4" y1="1027.6" x2="751.7" y2="1027.6" stroke="#c4c4c4" stroke-width="2" />
<line x1="566.4" y1="1027.6" x2="570.4" y2="1027.6" stroke="#b0b0b0" stroke-width="1.5" />
<text x="555.1" y="1035.6" font-size="17.5" font-weight="bold" fill="#2a2a2a" text-anchor="end" stroke="#2a2a2a" stroke-width="0.3">0</text>
<line x1="570.4" y1="1005.6777777777777" x2="751.7" y2="1005.6777777777777" stroke="#c4c4c4" stroke-width="2" />
<line x1="566.4" y1="1005.6777777777777" x2="570.4" y2="1005.6777777777777" stroke="#b0b0b0" stroke-width="1.5" />
<text x="555.1" y="1013.6777777777777" font-size="17.5" font-weight="bold" fill="#2a2a2a" text-anchor="end" stroke="#2a2a2a" stroke-width="0.3">0.2</text>
<line x1="570.4" y1="983.7555555555555" x2="751.7" y2="983.7555555555555" stroke="#c4c4c4" stroke-width="2" />
<line x1="566.4" y1="983.7555555555555" x2="570.4" y2="983.7555555555555" stroke="#b0b0b0" stroke-width="1.5" />
<text x="555.1" y="991.7555555555555" font-size="17.5" font-weight="bold" fill="#2a2a2a" text-anchor="end" stroke="#2a2a2a" stroke-width="0.3">0.4</text>
<line x1="570.4" y1="961.8333333333333" x2="751.7" y2="961.8333333333333" stroke="#c4c4c4" stroke-width="2" />
<line x1="566.4" y1="961.8333333333333" x2="570.4" y2="961.8333333333333" stroke="#b0b0b0" stroke-width="1.5" />
<text x="555.1" y="969.8333333333333" font-size="17.5" font-weight="bold" fill="#2a2a2a" text-anchor="end" stroke="#2a2a2a" stroke-width="0.3">0.6</text>
<line x1="570.4" y1="939.911111111111" x2="751.7" y2="939.911111111111" stroke="#c4c4c4" stroke-width="2" />
<line x1="566.4" y1="939.911111111111" x2="570.4" y2="939.911111111111" stroke="#b0b0b0" stroke-width="1.5" />
<text x="555.1" y="947.911111111111" font-size="17.5" font-weight="bold" fill="#2a2a2a" text-anchor="end" stroke="#2a2a2a" stroke-width="0.3">0.8</text>
<line x1="570.4" y1="917.9888888888888" x2="751.7" y2="917.9888888888888" stroke="#c4c4c4" stroke-width="2" />
<line x1="566.4" y1="917.9888888888888" x2="570.4" y2="917.9888888888888" stroke="#b0b0b0" stroke-width="1.5" />
<text x="555.1" y="925.9888888888888" font-size="17.5" font-weight="bold" fill="#2a2a2a" text-anchor="end" stroke="#2a2a2a" stroke-width="0.3">1</text>
<line x1="570.4" y1="896.0666666666666" x2="751.7" y2="896.0666666666666" stroke="#c4c4c4" stroke-width="2" />
<line x1="566.4" y1="896.0666666666666" x2="570.4" y2="896.0666666666666" stroke="#b0b0b0" stroke-width="1.5" />
<text x="555.1" y="904.0666666666666" font-size="17.5" font-weight="bold" fill="#2a2a2a" text-anchor="end" stroke="#2a2a2a" stroke-width="0.3">1.2</text>
<line x1="570.4" y1="874.1444444444444" x2="751.7" y2="874.1444444444444" stroke="#c4c4c4" stroke-width="2" />
<line x1="566.4" y1="874.1444444444444" x2="570.4" y2="874.1444444444444" stroke="#b0b0b0" stroke-width="1.5" />
<text x="555.1" y="882.1444444444444" font-size="17.5" font-weight="bold" fill="#2a2a2a" text-anchor="end" stroke="#2a2a2a" stroke-width="0.3">1.4</text>
<line x1="570.4" y1="852.2222222222222" x2="751.7" y2="852.2222222222222" stroke="#c4c4c4" stroke-width="2" />
<line x1="566.4" y1="852.2222222222222" x2="570.4" y2="852.2222222222222" stroke="#b0b0b0" stroke-width="1.5" />
<text x="555.1" y="860.2222222222222" font-size="17.5" font-weight="bold" fill="#2a2a2a" text-anchor="end" stroke="#2a2a2a" stroke-width="0.3">1.6</text>
<line x1="570.4" y1="830.3" x2="751.7" y2="830.3" stroke="#c4c4c4" stroke-width="2" />
<line x1="566.4" y1="830.3" x2="570.4" y2="830.3" stroke="#b0b0b0" stroke-width="1.5" />
<text x="555.1" y="838.3" font-size="17.5" font-weight="bold" fill="#2a2a2a" text-anchor="end" stroke="#2a2a2a" stroke-width="0.3">1.8</text>
<line x1="570.4" y1="829.3" x2="570.4" y2="1030.6" stroke="#b0b0b0" stroke-width="2" />
<line x1="751.7" y1="829.3" x2="751.7" y2="1030.6" stroke="#b0b0b0" stroke-width="2" />
<rect x="610.05" y="918.74" width="51.10" height="108.86" fill="#3e3b38" stroke="#46433f" stroke-width="1.5"/>
<line x1="635.5999999999999" y1="882.9133333333333" x2="635.5999999999999" y2="917.9888888888888" stroke="#6a6a6a" stroke-width="2" />
<line x1="635.5999999999999" y1="917.9888888888888" x2="635.5999999999999" y2="950.8722222222221" stroke="#404040" stroke-width="2" />
<line x1="632.0999999999999" y1="882.9133333333333" x2="639.0999999999999" y2="882.9133333333333" stroke="#5a5a5a" stroke-width="2" />
<line x1="632.0999999999999" y1="950.8722222222221" x2="639.0999999999999" y2="950.8722222222221" stroke="#3a3a3a" stroke-width="2" />
<rect x="662.65" y="942.20" width="49.80" height="85.40" fill="#c4c0bd" stroke="#46433f" stroke-width="1.5"/>
<line x1="687.55" y1="917.9888888888888" x2="687.55" y2="941.4456666666666" stroke="#6a6a6a" stroke-width="2" />
<line x1="687.55" y1="941.4456666666666" x2="687.55" y2="964.5736111111111" stroke="#404040" stroke-width="2" />
<line x1="684.05" y1="917.9888888888888" x2="691.05" y2="917.9888888888888" stroke="#5a5a5a" stroke-width="2" />
<line x1="684.05" y1="964.5736111111111" x2="691.05" y2="964.5736111111111" stroke="#3a3a3a" stroke-width="2" />
<text x="657" y="812.2" font-size="17.8" font-weight="bold" fill="#2e2e2e" text-anchor="middle" textLength="98.3" lengthAdjust="spacingAndGlyphs" stroke="#2a2a2a" stroke-width="0.3">Osteocalcin</text>
<text transform="translate(31,919.5) rotate(-90)" x="0" y="0" font-size="18" font-weight="bold" fill="#2a2a2a" text-anchor="middle" textLength="247" lengthAdjust="spacingAndGlyphs" stroke="#2a2a2a" stroke-width="0.3">Relative mRNA Quantification</text>
<text transform="translate(51.6,918.5) rotate(-90)" x="0" y="0" font-size="18" font-weight="bold" fill="#2a2a2a" text-anchor="middle" textLength="124" lengthAdjust="spacingAndGlyphs" stroke="#2a2a2a" stroke-width="0.3">(Fold Increase)</text>
</g></svg></body></html>
